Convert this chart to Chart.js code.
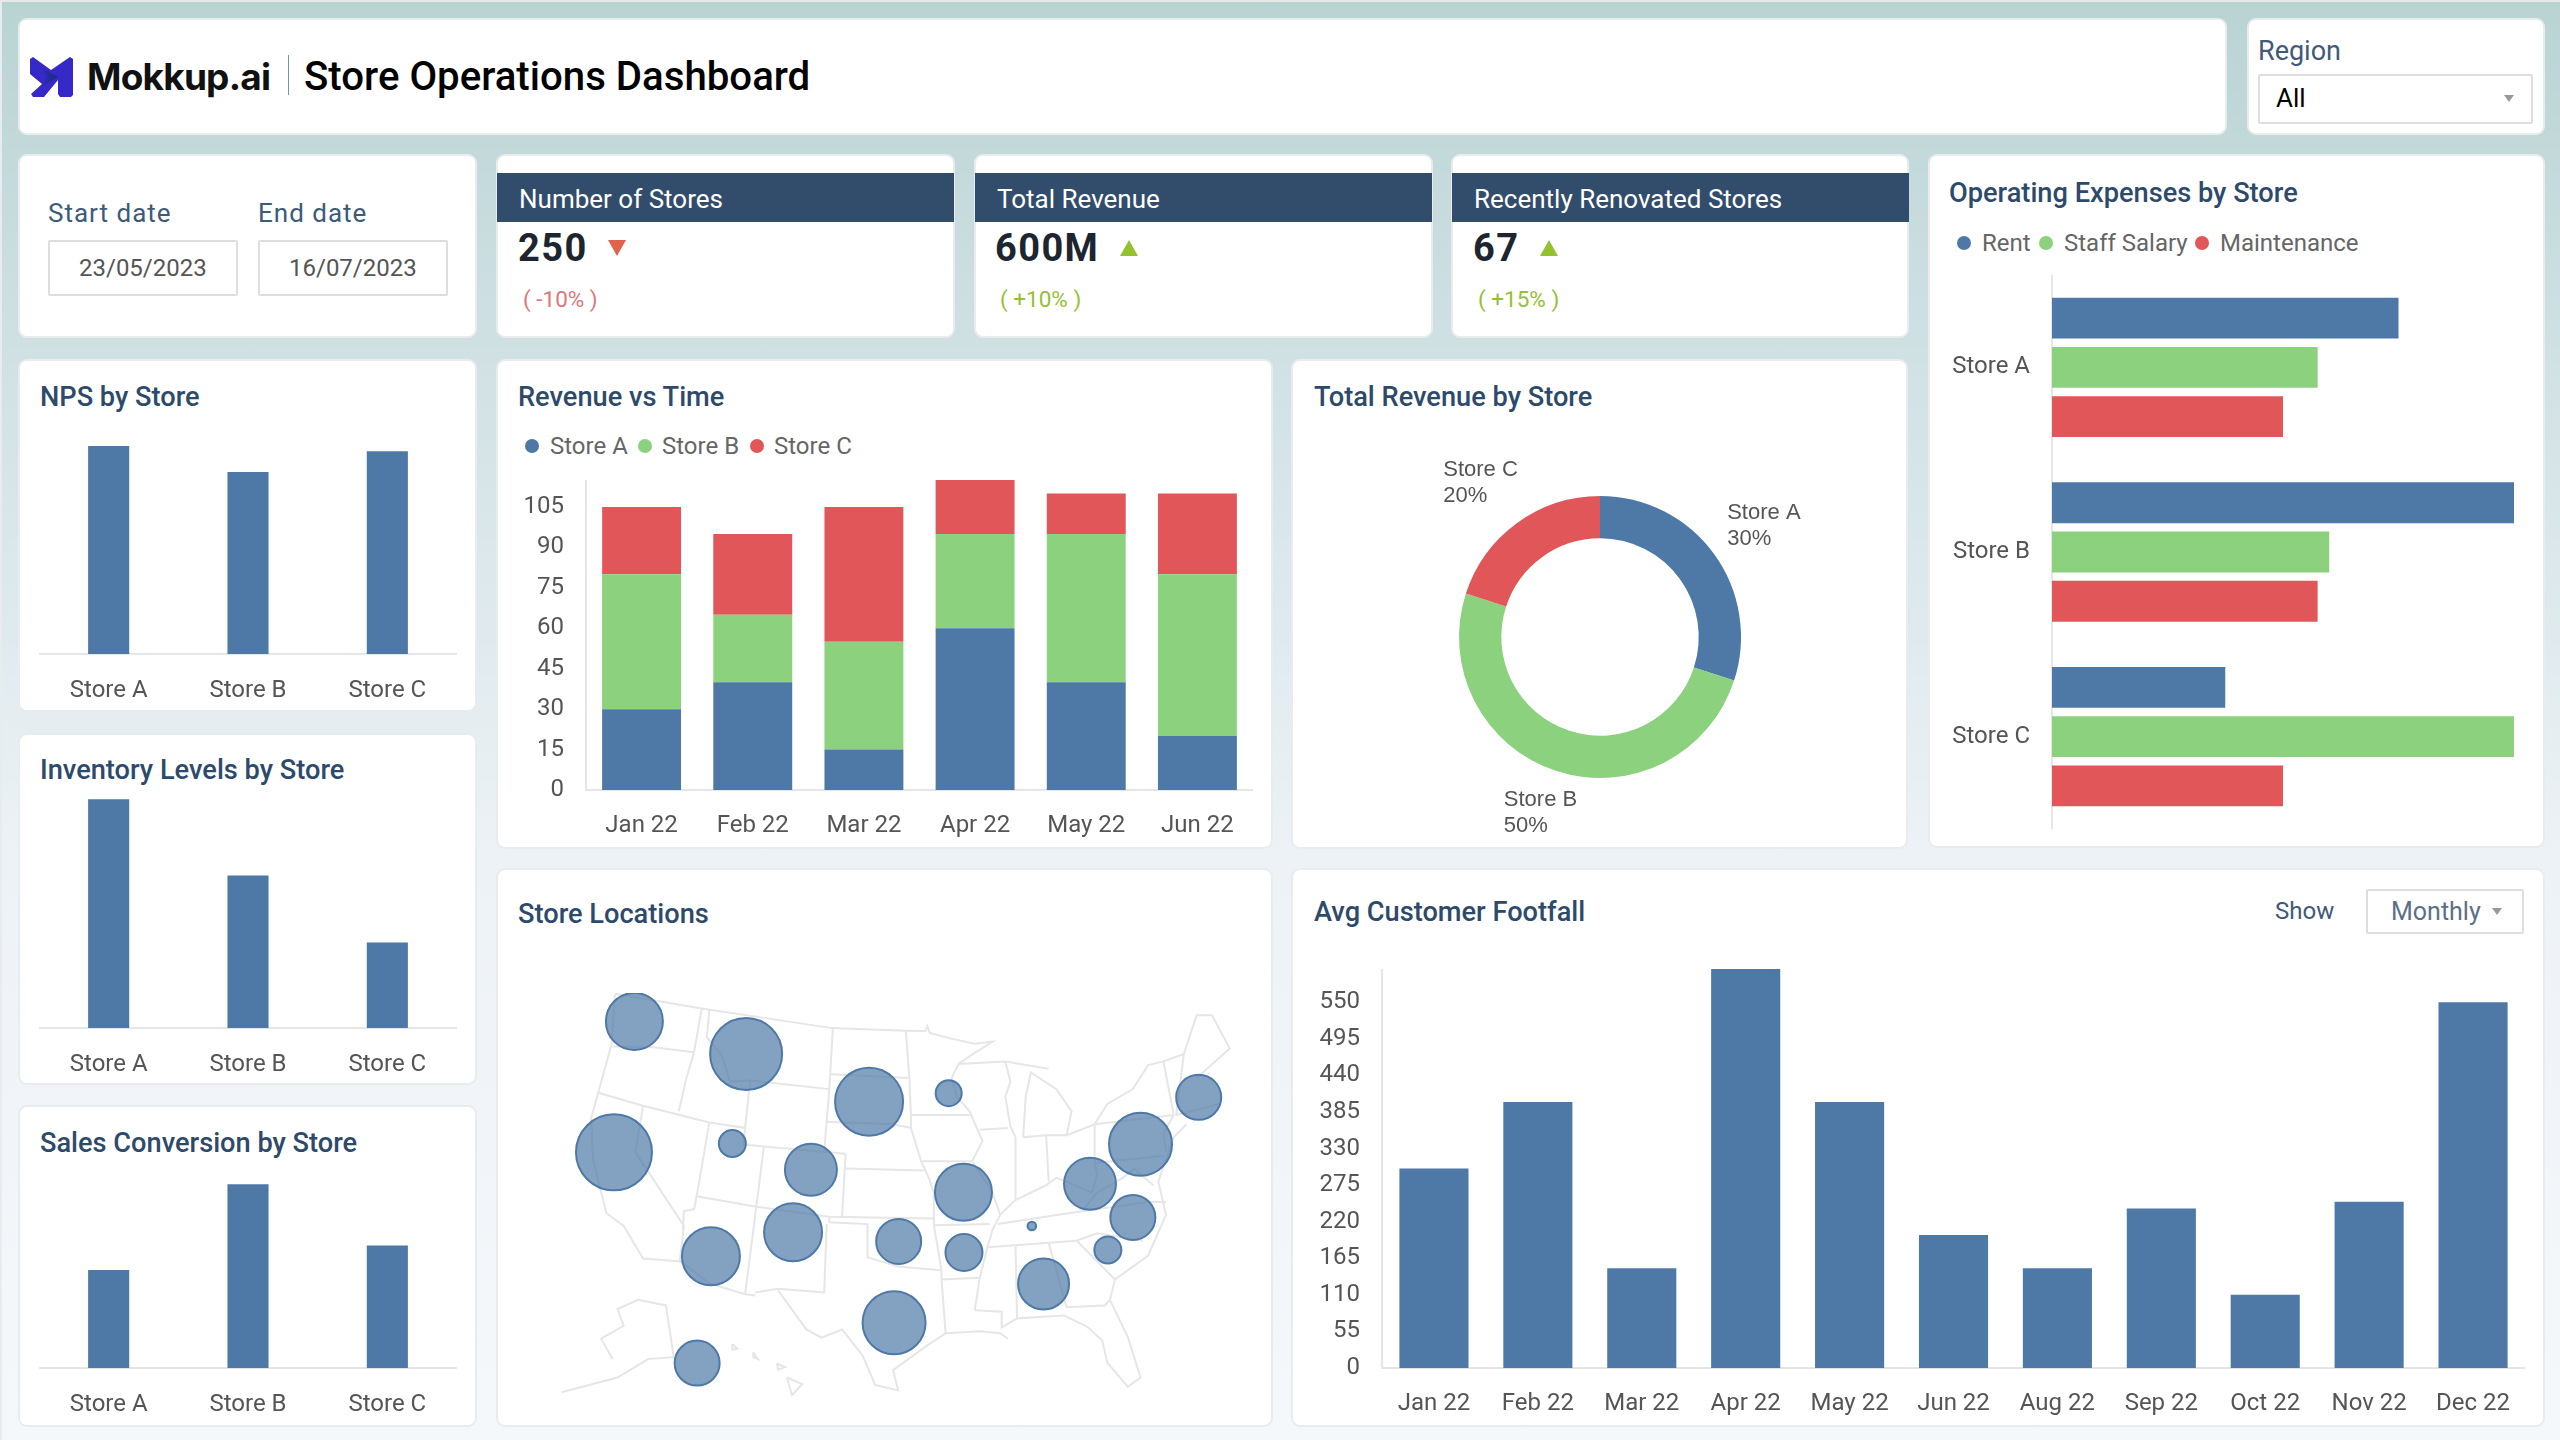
<!DOCTYPE html>
<html>
<head>
<meta charset="utf-8">
<title>Store Operations Dashboard</title>
<script src="https://cdn.jsdelivr.net/npm/chart.js@4"></script>
<style>
html,body{margin:0;padding:0}
body{width:2560px;height:1440px;position:relative;overflow:hidden;font-family:Roboto,sans-serif;
  background:linear-gradient(180deg,#b9d3d3 0,#cfe0e3 340px,#edf2f6 860px,#f5f8fb 1440px)}
.card{position:absolute;background:#fff;border-radius:9px;box-sizing:border-box;border:2px solid #e9ecee}
.t{position:absolute;white-space:nowrap;transform:translateY(-50%);line-height:1.2}
.title{font-weight:500;font-size:27.2px;color:#2d4a6b}
.band{position:absolute;background:#324d6b}
.box{position:absolute;box-sizing:border-box;background:#fff;border:2px solid #dedede;border-radius:2px}
.dot{position:absolute;width:14px;height:14px;border-radius:50%;transform:translate(-50%,-50%)}
.leg{font-size:24px;color:#666}
canvas{position:absolute}
</style>
</head>
<body>
<div id="page"></div>
<svg style="position:absolute;left:30px;top:57px" width="44" height="41" viewBox="0 0 44 41">
  <defs><linearGradient id="lg" x1="0" y1="0" x2="1" y2="0"><stop offset="0" stop-color="#3729c8"/><stop offset="1" stop-color="#1c2a80"/></linearGradient></defs>
  <polygon points="0,2 3,0 21,13 40,0 43,2 43,38 41,40 30,40 28,37 28,23 14,40 3,40 1,37 12,27 0,17" fill="#3729c8"/>
  <polygon points="8,8 28,20 10,31 17,20" fill="url(#lg)"/>
</svg>
<div style="position:absolute;left:288px;top:55px;width:1px;height:40px;background:#6f9aa8"></div>
<canvas id="npsChart" width="418" height="270" style="left:39px;top:434px"></canvas>
<canvas id="inventoryChart" width="418" height="290" style="left:39px;top:788px"></canvas>
<canvas id="salesChart" width="418" height="250" style="left:39px;top:1168px"></canvas>
<canvas id="revenueChart" width="733" height="370" style="left:520px;top:480px"></canvas>
<canvas id="shareChart" width="580" height="400" style="left:1310px;top:437px"></canvas>
<canvas id="expenseChart" width="574" height="554" style="left:1940px;top:275px"></canvas>
<canvas id="mapChart" width="800" height="403" style="left:490px;top:993px"></canvas>
<canvas id="footfallChart" width="1215" height="459" style="left:1310px;top:969px"></canvas>

<script>
// values
const stores = ['Store A', 'Store B', 'Store C'];
const npsValues = [80, 70, 78];
const inventoryValues = [75, 50, 28];
const salesValues = [8, 15, 10];

const revenueMonths = ['Jan 22', 'Feb 22', 'Mar 22', 'Apr 22', 'May 22', 'Jun 22'];
const revenueStoreA = [30, 40, 15, 60, 40, 20];
const revenueStoreB = [50, 25, 40, 35, 55, 60];
const revenueStoreC = [25, 30, 50, 20, 15, 30];

const shareValues = [30, 50, 20];

const expenseNames = ['Rent', 'Staff Salary', 'Maintenance'];
const expenseRent = [30, 40, 15];
const expenseSalary = [23, 24, 40];
const expenseMaintenance = [20, 23, 20];

const footfallMonths = ['Jan 22', 'Feb 22', 'Mar 22', 'Apr 22', 'May 22', 'Jun 22', 'Aug 22', 'Sep 22', 'Oct 22', 'Nov 22', 'Dec 22'];
const footfallValues = [300, 400, 150, 600, 400, 200, 150, 240, 110, 250, 550];

// bubbles on the map: position in map units, radius
const bubbleX = [283, 502, 743, 899, 1389, 1275, 243, 475, 629, 928, 1176, 1260, 1062, 594, 433, 801, 929, 1211, 1085, 792, 406];
const bubbleY = [437, 525, 654, 631, 642, 769, 791, 767, 838, 899, 876, 967, 990, 1007, 1072, 1032, 1062, 1055, 1147, 1252, 1361];
const bubbleSize = [28.5, 36, 34, 13, 22.5, 31.5, 38, 13.5, 26, 28.5, 26, 22.5, 4.3, 29, 29, 22.5, 18.5, 13.5, 25.5, 31.5, 22.5];

// state borders, map units, x,y pairs
const mapBorders = [
  [245,362, 415,402, 560,432, 670,455, 815,462, 853,463, 857,450, 862,468, 900,482, 950,497, 985,492, 950,522, 918,552, 905,590],
  [245,362, 238,500, 212,630, 198,700, 202,810, 228,955, 262,990, 300,1078, 375,1086],
  [240,505, 320,507, 400,520],
  [415,402, 400,520, 385,590, 370,680],
  [212,630, 300,665, 430,710, 500,725, 497,770, 537,775, 697,795],
  [300,665, 285,790, 380,990, 372,1085, 430,1145, 500,1175, 520,1178],
  [430,710, 405,910, 400,945, 380,950, 378,1000],
  [405,910, 522,938, 665,965, 870,970],
  [537,775, 522,938, 500,1175],
  [430,405, 425,480, 455,530, 470,600, 510,597, 665,620],
  [510,597, 500,725],
  [672,455, 665,620, 655,790],
  [668,580, 822,590],
  [815,462, 822,590, 825,690, 825,725],
  [660,708, 790,715, 825,725, 845,815, 860,860, 870,900, 870,970, 870,988, 885,1110],
  [825,690, 940,690],
  [697,795, 690,965],
  [697,835, 850,840],
  [845,815, 945,815],
  [905,590, 915,640, 940,680, 965,760, 945,815, 985,900, 1000,960, 985,1000, 975,1048, 960,1130, 950,1218],
  [870,988, 980,985],
  [665,965, 665,980, 740,985, 740,1075, 800,1100, 885,1110, 885,1135, 893,1280],
  [660,985, 655,1170, 565,1160, 520,1170],
  [565,1165, 620,1270, 650,1292, 690,1270, 730,1340, 755,1420, 800,1435, 790,1380, 850,1320, 893,1280, 960,1275, 1000,1280, 1015,1295],
  [885,1135, 960,1130],
  [950,1218, 1003,1222, 1003,1265, 1033,1240],
  [1030,1045, 1033,1240, 1125,1232, 1170,1262, 1200,1300, 1210,1360, 1250,1425, 1275,1400, 1250,1290, 1215,1190],
  [975,1048, 1150,1030],
  [1095,1035, 1130,1210, 1205,1205, 1215,1190],
  [1215,1190, 1225,1135, 1150,1030, 1190,1010, 1280,1030],
  [1225,1135, 1290,1070, 1325,960, 1310,870, 1340,750, 1365,715],
  [995,985, 1160,950, 1290,925, 1325,925],
  [1000,960, 1030,920, 1090,880, 1110,860, 1130,870, 1180,900, 1190,850, 1185,820],
  [1030,750, 1030,920],
  [1090,745, 1095,870],
  [960,730, 1015,725],
  [1045,750, 1090,745, 1130,745, 1140,680, 1110,620, 1060,575, 1050,640, 1045,750],
  [918,552, 1010,545, 1095,565],
  [1010,545, 1020,600, 1010,640, 1020,720, 1030,750],
  [1130,745, 1185,715, 1340,690],
  [1185,715, 1185,820, 1320,800],
  [1185,715, 1210,660, 1260,620, 1290,555, 1320,545, 1340,690],
  [1320,545, 1360,525, 1345,690, 1430,660],
  [1360,525, 1385,420, 1415,420, 1450,510, 1385,590],
  [1160,950, 1190,900, 1240,860, 1262,835, 1300,880],
  [1340,690, 1320,740, 1325,790],
  [140,1440, 250,1400, 310,1350, 360,1345, 345,1205, 290,1190, 250,1215, 262,1260, 218,1295, 240,1350],
  [475,1310, 485,1322, 475,1325, 475,1310],
  [516,1332, 525,1350, 516,1345, 516,1332],
  [562,1362, 578,1372, 565,1378, 562,1362],
  [582,1400, 612,1418, 592,1448, 582,1400]
];

const BLUE = '#4e79a7', GREEN = '#8cd17d', RED = '#e15759';
const TICK_FONT = { family: 'Roboto', size: 24 };
const TICK_COLOR = '#555';
const AXIS_LINE = '#e4e6e8';

Chart.defaults.animation = false;
Chart.defaults.responsive = false;
Chart.defaults.layout.autoPadding = false;
Chart.defaults.plugins.legend.display = false;
Chart.defaults.plugins.tooltip.enabled = false;

// fixed axis size, and no extra room kept for the end tick labels
const fixHeight = h => s => { s.height = h; s.paddingLeft = 0; s.paddingRight = 0; };
const fixWidth = w => s => { s.width = w; s.paddingTop = 0; s.paddingBottom = 0; };

// page furniture
const page = document.getElementById('page');
function add(cls, style, text) {
  const el = document.createElement('div');
  el.className = cls;
  el.style.cssText = style;
  if (text) el.textContent = text;
  page.appendChild(el);
}
function card(x, y, w, h) { add('card', `left:${x}px;top:${y}px;width:${w}px;height:${h}px`); }
function text(cls, x, y, str, extra) { add('t ' + cls, `left:${x}px;top:${y}px;${extra || ''}`, str); }
function triangle(x, y, up, color) {
  add('', `position:absolute;left:${x}px;top:${y}px;width:0;height:0;border-left:9px solid transparent;border-right:9px solid transparent;` +
    (up ? `border-bottom:16px solid ${color}` : `border-top:16px solid ${color}`));
}

add('', 'position:absolute;left:0;top:0;width:2560px;height:2px;background:#e8e8e8');
add('', 'position:absolute;left:0;top:0;width:2px;height:1440px;background:#e8ecee');

card(18, 18, 2209, 117);
card(2247, 18, 298, 117);
card(18, 154, 459, 184);
card(496, 154, 459, 184);
card(974, 154, 459, 184);
card(1451, 154, 458, 184);
card(1928, 154, 617, 694);
card(18, 359, 459, 353);
card(18, 733, 459, 352);
card(18, 1105, 459, 322);
card(496, 359, 777, 490);
card(1291, 359, 617, 490);
card(496, 868, 777, 559);
card(1291, 868, 1254, 559);

text('', 87, 77, 'Mokkup.ai', 'font-family:Inter;font-weight:700;font-size:37px;color:#111;letter-spacing:-0.8px');
text('', 304, 77, 'Store Operations Dashboard', 'font-weight:500;font-size:40.2px;color:#000');

text('', 2258, 51, 'Region', 'font-size:27px;color:#3f5a7a');
add('box', 'left:2258px;top:74px;width:275px;height:50px');
text('', 2276, 99, 'All', 'font-size:26px;color:#000');
add('', 'position:absolute;left:2504px;top:95px;width:0;height:0;border-left:5px solid transparent;border-right:5px solid transparent;border-top:7px solid #999');

text('', 48, 214, 'Start date', 'font-size:26px;color:#3d5a78;letter-spacing:1px');
text('', 258, 214, 'End date', 'font-size:26px;color:#3d5a78;letter-spacing:1px');
add('box', 'left:48px;top:240px;width:190px;height:56px');
add('box', 'left:258px;top:240px;width:190px;height:56px');
text('', 79, 268, '23/05/2023', 'font-size:24px;color:#555');
text('', 289, 268, '16/07/2023', 'font-size:24px;color:#555');

const kpis = [
  { x: 497, name: 'Number of Stores', value: '250', change: '( -10% )', up: false, vx: 518, tx: 608, px: 523 },
  { x: 975, name: 'Total Revenue', value: '600M', change: '( +10% )', up: true, vx: 995, tx: 1120, px: 1000 },
  { x: 1452, name: 'Recently Renovated Stores', value: '67', change: '( +15% )', up: true, vx: 1473, tx: 1540, px: 1478 }
];
kpis.forEach(k => {
  add('band', `left:${k.x}px;top:173px;width:457px;height:49px`);
  text('', k.x + 22, 200, k.name, 'font-size:26px;color:#fff');
  text('', k.vx, 249, k.value, 'font-weight:700;font-size:38px;color:#1d2530;letter-spacing:1.4px');
  triangle(k.tx, 240, k.up, k.up ? '#94c12f' : '#e0614c');
  text('', k.px, 299, k.change, 'font-size:22.5px;color:' + (k.up ? '#95bf35' : '#e0767a'));
});

text('title', 40, 397, 'NPS by Store');
text('title', 40, 770, 'Inventory Levels by Store');
text('title', 40, 1143, 'Sales Conversion by Store');
text('title', 518, 397, 'Revenue vs Time');
text('title', 1314, 397, 'Total Revenue by Store');
text('title', 1949, 193, 'Operating Expenses by Store');
text('title', 518, 914, 'Store Locations');
text('title', 1314, 912, 'Avg Customer Footfall');

// legends
const colors = [BLUE, GREEN, RED];
[532, 645, 757].forEach((x, i) => add('dot', `left:${x}px;top:446px;background:${colors[i]}`));
[550, 662, 774].forEach((x, i) => text('leg', x, 446, stores[i]));
[1964, 2046, 2202].forEach((x, i) => add('dot', `left:${x}px;top:243px;background:${colors[i]}`));
[1982, 2064, 2220].forEach((x, i) => text('leg', x, 243, expenseNames[i]));

text('', 2275, 911, 'Show', 'font-size:24px;color:#3d5a78');
add('box', 'left:2366px;top:889px;width:158px;height:45px');
text('', 2391, 912, 'Monthly', 'font-size:25px;color:#5c6f87');
add('', 'position:absolute;left:2492px;top:908px;width:0;height:0;border-left:5px solid transparent;border-right:5px solid transparent;border-top:7px solid #999');

// small single series bars
function smallBars(id, values, max) {
  new Chart(document.getElementById(id), {
    type: 'bar',
    data: { labels: stores, datasets: [{ data: values, backgroundColor: BLUE, barPercentage: 0.295, categoryPercentage: 1 }] },
    options: {
      layout: { padding: 0 },
      scales: {
        x: {
          afterFit: fixHeight(50),
          grid: { display: false, drawTicks: false },
          border: { color: AXIS_LINE, width: 2 },
          ticks: { font: TICK_FONT, color: TICK_COLOR, padding: 23, maxRotation: 0 }
        },
        y: { display: false, min: 0, max: max }
      }
    }
  });
}
// canvas top + area height gives the baseline: 654, 1028, 1368
smallBars('npsChart', npsValues, 220 / 2.6);
smallBars('inventoryChart', inventoryValues, 240 / 3.05);
smallBars('salesChart', salesValues, 200 / 12.25);

new Chart(document.getElementById('revenueChart'), {
  type: 'bar',
  data: {
    labels: revenueMonths,
    datasets: [
      { label: stores[0], data: revenueStoreA, backgroundColor: BLUE },
      { label: stores[1], data: revenueStoreB, backgroundColor: GREEN },
      { label: stores[2], data: revenueStoreC, backgroundColor: RED }
    ]
  },
  options: {
    datasets: { bar: { barPercentage: 0.71, categoryPercentage: 1 } },
    scales: {
      x: {
        stacked: true,
        afterFit: fixHeight(60),
        grid: { display: false, drawTicks: false },
        border: { color: AXIS_LINE, width: 2 },
        ticks: { font: TICK_FONT, color: TICK_COLOR, padding: 22, maxRotation: 0 }
      },
      y: {
        stacked: true,
        min: 0,
        max: 115,
        afterFit: fixWidth(66),
        grid: { display: false, drawTicks: false },
        border: { color: AXIS_LINE, width: 2 },
        ticks: { stepSize: 15, includeBounds: false, font: TICK_FONT, color: TICK_COLOR, padding: 22 }
      }
    }
  }
});

// donut labels sit outside the ring, on each slice's middle angle
const labelRadius = [198, 185, 197];
const labelNudge = [[3, 5], [-3, 0], [-5, 5]];
const sliceLabels = {
  id: 'sliceLabels',
  afterDraw(chart) {
    const ctx = chart.ctx;
    const arcs = chart.getDatasetMeta(0).data;
    ctx.save();
    ctx.font = '22px "Liberation Sans"';
    ctx.fillStyle = '#555';
    ctx.textBaseline = 'middle';
    arcs.forEach((arc, i) => {
      const mid = (arc.startAngle + arc.endAngle) / 2;
      const x = arc.x + Math.cos(mid) * labelRadius[i] - 36 + labelNudge[i][0];
      const y = arc.y + Math.sin(mid) * labelRadius[i] + labelNudge[i][1];
      ctx.fillText(chart.data.labels[i], x, y - 13);
      ctx.fillText(chart.data.datasets[0].data[i] + '%', x, y + 13);
    });
    ctx.restore();
  }
};
new Chart(document.getElementById('shareChart'), {
  type: 'doughnut',
  data: { labels: stores, datasets: [{ data: shareValues, backgroundColor: colors, borderWidth: 0 }] },
  options: { radius: 141, cutout: '70%', layout: { padding: 0 } },
  plugins: [sliceLabels]
});

new Chart(document.getElementById('expenseChart'), {
  type: 'bar',
  data: {
    labels: stores,
    datasets: [
      { label: expenseNames[0], data: expenseRent, backgroundColor: BLUE },
      { label: expenseNames[1], data: expenseSalary, backgroundColor: GREEN },
      { label: expenseNames[2], data: expenseMaintenance, backgroundColor: RED }
    ]
  },
  options: {
    indexAxis: 'y',
    datasets: { bar: { barPercentage: 0.83, categoryPercentage: 0.8 } },
    scales: {
      x: { display: false, min: 0, max: 40 },
      y: {
        afterFit: fixWidth(112),
        grid: { display: false, drawTicks: false },
        border: { color: AXIS_LINE, width: 2 },
        ticks: { font: TICK_FONT, color: TICK_COLOR, padding: 22 }
      }
    }
  }
});

const toPoints = flat => {
  const pts = [];
  for (let i = 0; i < flat.length; i += 2) pts.push({ x: flat[i], y: flat[i + 1] });
  return pts;
};
new Chart(document.getElementById('mapChart'), {
  type: 'scatter',
  data: {
    datasets: [
      {
        type: 'bubble',
        order: 0,
        data: bubbleX.map((x, i) => ({ x: x, y: bubbleY[i], r: bubbleSize[i] })),
        backgroundColor: 'rgba(78,121,167,0.7)',
        borderColor: BLUE,
        borderWidth: 2
      },
      ...mapBorders.map(line => ({
        order: 1,
        data: toPoints(line),
        showLine: true,
        pointRadius: 0,
        borderColor: '#e6e6e6',
        borderWidth: 2
      }))
    ]
  },
  options: {
    layout: { padding: 0 },
    scales: {
      x: { display: false, min: 0, max: 1568 },
      y: { display: false, reverse: true, min: 360, max: 1450 }
    }
  }
});

new Chart(document.getElementById('footfallChart'), {
  type: 'bar',
  data: { labels: footfallMonths, datasets: [{ data: footfallValues, backgroundColor: BLUE, barPercentage: 0.665, categoryPercentage: 1 }] },
  options: {
    scales: {
      x: {
        afterFit: fixHeight(60),
        grid: { display: false, drawTicks: false },
        border: { color: AXIS_LINE, width: 2 },
        ticks: { font: TICK_FONT, color: TICK_COLOR, padding: 22, maxRotation: 0, autoSkip: false }
      },
      y: {
        min: 0,
        max: 600,
        afterFit: fixWidth(72),
        grid: { display: false, drawTicks: false },
        border: { color: AXIS_LINE, width: 2 },
        ticks: { stepSize: 55, includeBounds: false, font: TICK_FONT, color: TICK_COLOR, padding: 22 }
      }
    }
  }
});
</script>
</body>
</html>
